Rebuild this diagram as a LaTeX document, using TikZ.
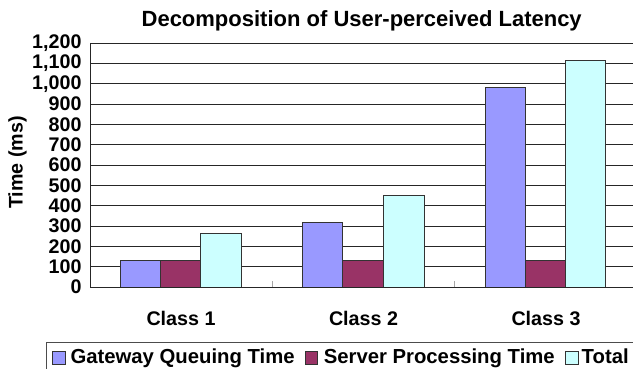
\documentclass[tikz,border=0pt]{standalone}
\usepackage{fontspec}
\setmainfont{Liberation Sans}
\begin{document}
\begin{tikzpicture}[x=1pt,y=-1pt,
  lbl/.style={font=\fontsize{19.7}{20}\selectfont\bfseries, inner sep=0pt},
  leg/.style={font=\fontsize{20.3}{21}\selectfont\bfseries, inner sep=0pt},
  ttl/.style={font=\fontsize{22}{23}\selectfont\bfseries, inner sep=0pt},
  grid/.style={draw=black!85, line width=1pt},
  bar/.style={draw=black!80, line width=0.8pt},
  gq/.style={bar, fill={rgb,255:red,153;green,153;blue,255}},
  sp/.style={bar, fill={rgb,255:red,153;green,51;blue,102}},
  tot/.style={bar, fill={rgb,255:red,204;green,255;blue,255}},
  tick/.style={draw=black!35, line width=0.7pt}]
\clip (0,0) rectangle (633,369);
\fill[white] (0,0) rectangle (633,369);
% gridlines and labels
\foreach \v/\t in {0/0,100/100,200/200,300/300,400/400,500/500,600/600,700/700,800/800,900/900,1000/{1,000},1100/{1,100},1200/{1,200}}{
  \draw[grid] (90,{287-\v*0.20333}) -- (640,{287-\v*0.20333});
  \node[lbl, anchor=east] (y\v) at (81.7,{287-\v*0.20333}) {\t};
}
\draw[grid] (90,43) -- (90,287);
% category ticks
\foreach \x in {272.3,454.6}{ \draw[tick] (\x,281) -- (\x,287); }
% bars: class 1
\draw[gq]  (120.0,287) rectangle (160.5,{287-133*0.20333});
\draw[sp]  (160.5,287) rectangle (200.8,{287-130*0.20333});
\draw[tot] (200.8,287) rectangle (241.0,{287-266*0.20333});
% class 2
\draw[gq]  (302.3,287) rectangle (342.7,{287-316*0.20333});
\draw[sp]  (342.7,287) rectangle (383.3,{287-130*0.20333});
\draw[tot] (383.3,287) rectangle (424.0,{287-451*0.20333});
% class 3
\draw[gq]  (485.0,287) rectangle (525.3,{287-983*0.20333});
\draw[sp]  (525.3,287) rectangle (565.7,{287-130*0.20333});
\draw[tot] (565.7,287) rectangle (605.7,{287-1116*0.20333});
% redraw axis line on top
\draw[grid] (90,287) -- (640,287);
% category labels
\node[lbl, anchor=base] (c1) at (181.0,325) {Class 1};
\node[lbl, anchor=base] (c2) at (363.5,325) {Class 2};
\node[lbl, anchor=base] (c3) at (546.0,325) {Class 3};
% title
\node[ttl, anchor=base] (title) at (361.7,26.7) {Decomposition of User-perceived Latency};
% axis title
\node[lbl, rotate=90, anchor=center] (ytitle) at (17.5,162.5) {Time (ms)};
% legend
\draw[draw=black!70, line width=0.9pt] (46.7,342.3) rectangle (660,380);
\draw[gq]  (52.7,351.7) rectangle (65.3,364.0);
\node[leg, anchor=base west] (l1) at (70.3,363.8) {Gateway Queuing Time};
\draw[sp]  (305.0,351.7) rectangle (317.6,364.0);
\node[leg, anchor=base west] (l2) at (323.6,363.8) {Server Processing Time};
\draw[tot] (565.3,351.7) rectangle (577.9,364.0);
\node[leg, anchor=base west] (l3) at (581.5,363.8) {Total};
\end{tikzpicture}
\end{document}
